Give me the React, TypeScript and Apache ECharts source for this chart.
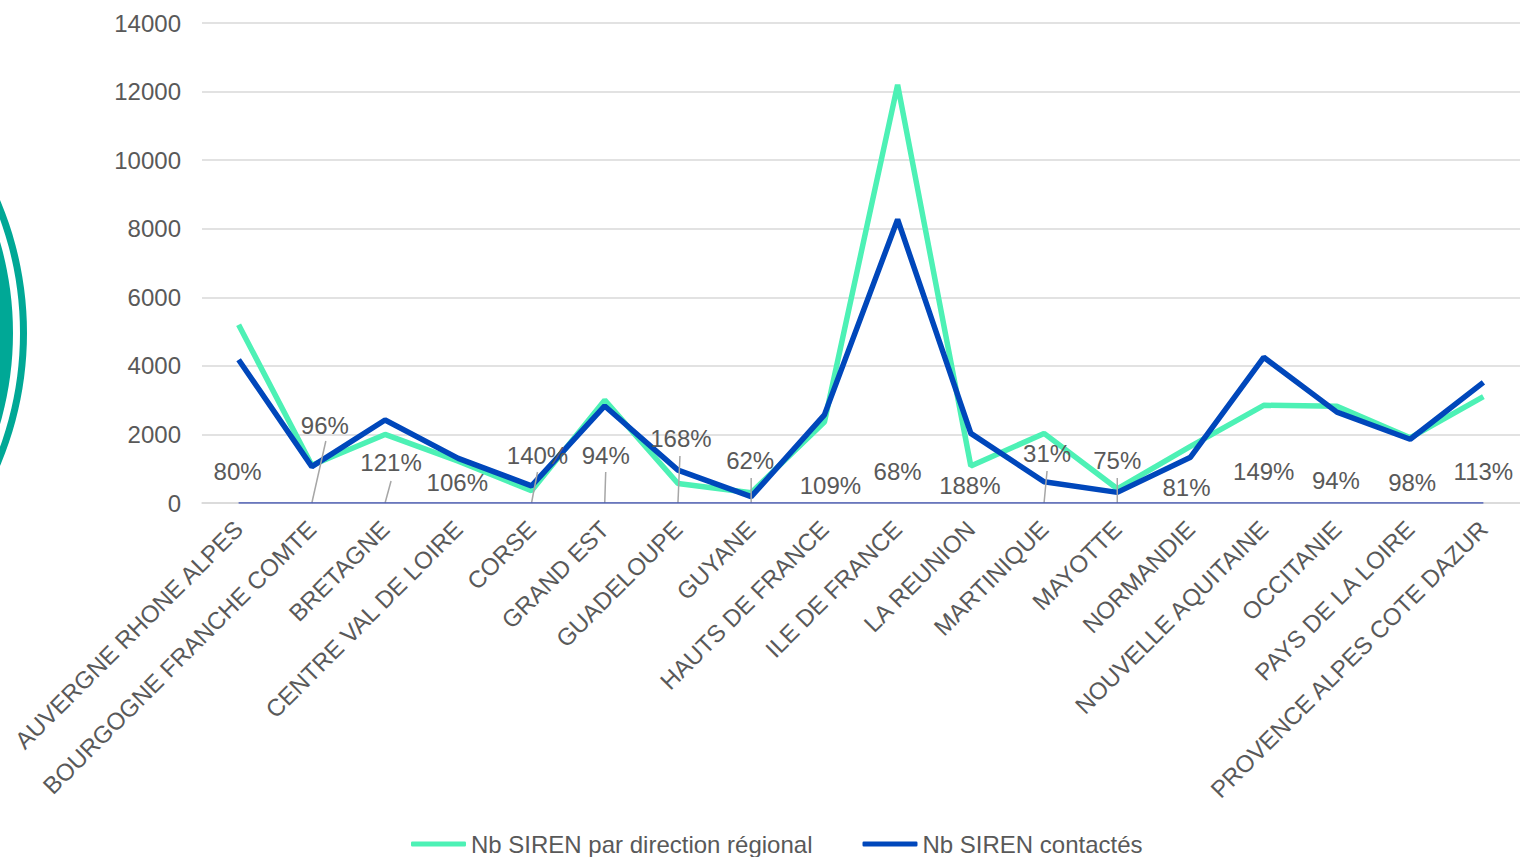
import React, { useEffect, useRef } from "react";
import * as echarts from "echarts";

const CATEGORIES = [
  "AUVERGNE RHONE ALPES",
  "BOURGOGNE FRANCHE COMTE",
  "BRETAGNE",
  "CENTRE VAL DE LOIRE",
  "CORSE",
  "GRAND EST",
  "GUADELOUPE",
  "GUYANE",
  "HAUTS DE FRANCE",
  "ILE DE FRANCE",
  "LA REUNION",
  "MARTINIQUE",
  "MAYOTTE",
  "NORMANDIE",
  "NOUVELLE AQUITAINE",
  "OCCITANIE",
  "PAYS DE LA LOIRE",
  "PROVENCE ALPES COTE DAZUR",
];

const SIREN_DIRECTION = [5200, 1100, 2000, 1220, 360, 3000, 570, 300, 2360, 12200, 1080, 2030, 415, 1650, 2850, 2820, 1900, 3100];
const SIREN_CONTACTES = [4180, 1060, 2420, 1300, 500, 2830, 960, 185, 2570, 8270, 2030, 620, 310, 1335, 4250, 2650, 1860, 3520];
const RATIO_PCT = [80, 96, 121, 106, 140, 94, 168, 62, 109, 68, 188, 31, 75, 81, 149, 94, 98, 113];

const Y_MIN = 0;
const Y_MAX = 14000;
const Y_STEP = 2000;

const SERIES_NAMES = ["Nb SIREN par direction régional", "Nb SIREN contactés"];

// label layout (pixel offsets from the anchor point on the zero line)
const LABEL_OFFSETS: [number, number][] = [
  [-1, -31], [13, -77], [6, -40], [-1, -20], [6, -47], [1, -47], [3, -64], [-1, -42], [6, -17],
  [0, -31], [-1, -17], [3, -49], [0, -42], [-4, -15], [0, -31], [-1, -22], [2, -20], [0, -31],
];
const LEADERS: ([number, number] | null)[] = [
  null, [14, -62], [6, -22], null, [6, -31], [1, -31], [2, -47], [0, -25], null,
  null, null, [3, -32], [0, -25], null, null, null, null, null,
];

const FONT = "'Liberation Sans', Arial, sans-serif";
const TEXT_COLOR = "#595959";
const GREEN = "#4DF1B5";
const BLUE = "#0047BB";
const TEAL = "#00A896";

export default function App() {
  const ref = useRef<HTMLDivElement>(null);

  useEffect(() => {
    if (!ref.current) return;
    const chart = echarts.init(ref.current, undefined, { renderer: "svg" });

    const leaderData = LEADERS.map((l, i) => (l ? [i, 0] : null)).filter((d) => d !== null);

    chart.setOption({
      animation: false,
      textStyle: { fontFamily: FONT },
      graphic: [
        {
          type: "circle",
          z: -10,
          silent: true,
          shape: { cx: -314, cy: 333, r: 327 },
          style: { fill: TEAL },
        },
        {
          type: "ring",
          z: -10,
          silent: true,
          shape: { cx: -314, cy: 333, r: 341, r0: 334 },
          style: { fill: TEAL },
        },
      ],
      grid: { left: 202, top: 23, width: 1320, bottom: 354, containLabel: false },
      legend: {
        data: SERIES_NAMES,
        left: 411,
        top: 832,
        padding: 0,
        itemGap: 50,
        itemWidth: 55,
        itemHeight: 5,
        icon: "roundRect",
        textStyle: { color: TEXT_COLOR, fontSize: 24, fontFamily: FONT },
      },
      xAxis: {
        type: "category",
        data: CATEGORIES,
        boundaryGap: true,
        axisTick: { show: false },
        axisLine: { lineStyle: { color: "#D9D9D9", width: 1.5 } },
        axisLabel: {
          rotate: 45,
          interval: 0,
          margin: 22,
          color: TEXT_COLOR,
          fontSize: 24,
          fontFamily: FONT,
        },
        splitLine: { show: false },
      },
      yAxis: {
        type: "value",
        min: Y_MIN,
        max: Y_MAX,
        interval: Y_STEP,
        axisLine: { show: false },
        axisTick: { show: false },
        axisLabel: {
          color: TEXT_COLOR,
          fontSize: 24,
          fontFamily: FONT,
          margin: 21,
          formatter: (v: number) => String(v),
        },
        splitLine: { lineStyle: { color: "#D9D9D9", width: 1.5 } },
      },
      series: [
        {
          name: SERIES_NAMES[0],
          type: "line",
          data: SIREN_DIRECTION,
          color: GREEN,
          symbol: "none",
          lineStyle: { color: GREEN, width: 5.5 },
          z: 3,
        },
        {
          name: SERIES_NAMES[1],
          type: "line",
          data: SIREN_CONTACTES,
          color: BLUE,
          symbol: "none",
          lineStyle: { color: BLUE, width: 5.5 },
          z: 4,
        },
        {
          name: "Taux",
          type: "line",
          data: RATIO_PCT.map((p, i) => ({
            value: p / 100,
            label: { offset: LABEL_OFFSETS[i] },
          })),
          symbol: "circle",
          symbolSize: 1,
          itemStyle: { color: "rgba(0,0,0,0)" },
          lineStyle: { color: "#4457B5", width: 1.5 },
          z: 5,
          label: {
            show: true,
            position: "inside",
            color: TEXT_COLOR,
            fontSize: 24,
            fontFamily: FONT,
            formatter: (p: any) => Math.round(p.value * 100) + "%",
          },
        },
        {
          name: "leaders",
          type: "custom",
          z: 5,
          silent: true,
          data: leaderData,
          renderItem: (params: any, api: any) => {
            const i = api.value(0);
            const p = api.coord([i, 0]);
            const l = LEADERS[i] as [number, number];
            return {
              type: "line",
              shape: { x1: p[0], y1: p[1], x2: p[0] + l[0], y2: p[1] + l[1] },
              style: { stroke: "#A6A6A6", lineWidth: 1.5 },
            };
          },
        },
      ],
    });

    return () => chart.dispose();
  }, []);

  return (
    <div
      ref={ref}
      style={{ position: "absolute", left: 0, top: 0, width: 1520, height: 857, background: "#fff" }}
    />
  );
}
